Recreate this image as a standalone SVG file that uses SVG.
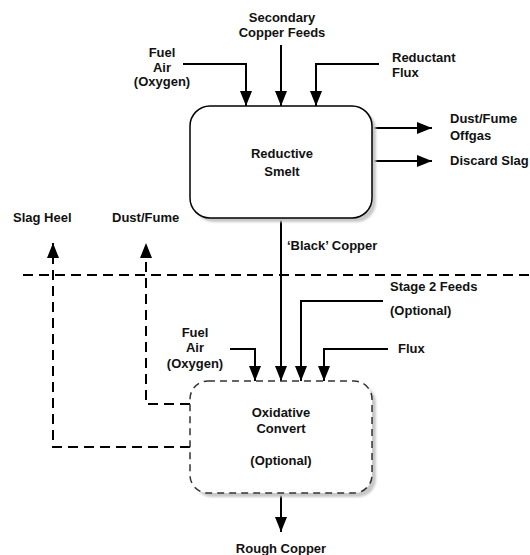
<svg xmlns="http://www.w3.org/2000/svg" width="530" height="555" viewBox="0 0 530 555">
  <style>
    text { font-family: "Liberation Sans", Arial, sans-serif; font-size: 13px; font-weight: bold; fill: #111; }
    .c { text-anchor: middle; }
    .flow { fill: none; stroke: #000; stroke-width: 2; }
    .opt { fill: none; stroke: #000; stroke-width: 2; stroke-dasharray: 10 6; }
    .box { fill: #fff; stroke: #000; stroke-width: 1.5; }
    .box-opt { fill: #fff; stroke: #333; stroke-width: 1.5; stroke-dasharray: 7 5; }
    .shadow { fill: #c8c8c8; }
  </style>
  <defs>
    <marker id="arrow" markerUnits="userSpaceOnUse" markerWidth="16" markerHeight="12" refX="15" refY="6" orient="auto">
      <path d="M0,0 L15,6 L0,12 Z" fill="#000"/>
    </marker>
    <filter id="soft" x="-10%" y="-10%" width="120%" height="120%">
      <feGaussianBlur stdDeviation="1.2"/>
    </filter>
  </defs>

  <rect width="530" height="555" fill="#fff"/>

  <!-- Stage boundary -->
  <path class="opt" d="M23,275 H530"/>

  <g id="connectors">
    <!-- Feeds into the smelt -->
    <path class="flow" d="M183,64 H246 V106" marker-end="url(#arrow)"/>
    <path class="flow" d="M281,45 V106" marker-end="url(#arrow)"/>
    <path class="flow" d="M379,64 H316 V106" marker-end="url(#arrow)"/>
    <!-- Smelt outputs -->
    <path class="flow" d="M372,128 H432" marker-end="url(#arrow)"/>
    <path class="flow" d="M372,161 H432" marker-end="url(#arrow)"/>
    <!-- Black copper to converter -->
    <path class="flow" d="M281,218 V381" marker-end="url(#arrow)"/>
    <!-- Stage 2 feeds -->
    <path class="flow" d="M383,301 H301 V381" marker-end="url(#arrow)"/>
    <path class="flow" d="M230,349 H255 V381" marker-end="url(#arrow)"/>
    <path class="flow" d="M388,349 H324 V381" marker-end="url(#arrow)"/>
    <!-- Converter outputs -->
    <path class="flow" d="M281,493 V532" marker-end="url(#arrow)"/>
    <path class="opt" d="M190,447 H53 V243" marker-end="url(#arrow)"/>
    <path class="opt" d="M190,404 H146 V243" marker-end="url(#arrow)"/>
  </g>

  <g id="reductive-smelt">
    <rect class="shadow" x="194" y="110" width="182" height="112" rx="20" filter="url(#soft)"/>
    <rect class="box" x="190" y="106" width="182" height="112" rx="20"/>
    <text class="c" x="282" y="158">Reductive</text>
    <text class="c" x="282" y="176">Smelt</text>
  </g>

  <g id="oxidative-convert">
    <rect class="shadow" x="194" y="385" width="182" height="112" rx="18" filter="url(#soft)"/>
    <rect class="box-opt" x="190" y="381" width="182" height="112" rx="18"/>
    <text class="c" x="281" y="417">Oxidative</text>
    <text class="c" x="281" y="433">Convert</text>
    <text class="c" x="281" y="465">(Optional)</text>
  </g>

  <g id="labels">
    <text class="c" x="162" y="57">Fuel</text>
    <text class="c" x="162" y="71.5">Air</text>
    <text class="c" x="162" y="86">(Oxygen)</text>
    <text class="c" x="282" y="22">Secondary</text>
    <text class="c" x="282" y="37">Copper Feeds</text>
    <text x="392" y="62">Reductant</text>
    <text x="392" y="77">Flux</text>
    <text x="450" y="123">Dust/Fume</text>
    <text x="450" y="140">Offgas</text>
    <text x="450" y="165">Discard Slag</text>
    <text x="13" y="222">Slag Heel</text>
    <text x="112" y="222">Dust/Fume</text>
    <text x="287" y="250">‘Black’ Copper</text>
    <text x="390" y="291">Stage 2 Feeds</text>
    <text x="390" y="315">(Optional)</text>
    <text class="c" x="195" y="337">Fuel</text>
    <text class="c" x="195" y="352">Air</text>
    <text class="c" x="195" y="368">(Oxygen)</text>
    <text x="398" y="353">Flux</text>
    <text class="c" x="281" y="553">Rough Copper</text>
  </g>
</svg>
